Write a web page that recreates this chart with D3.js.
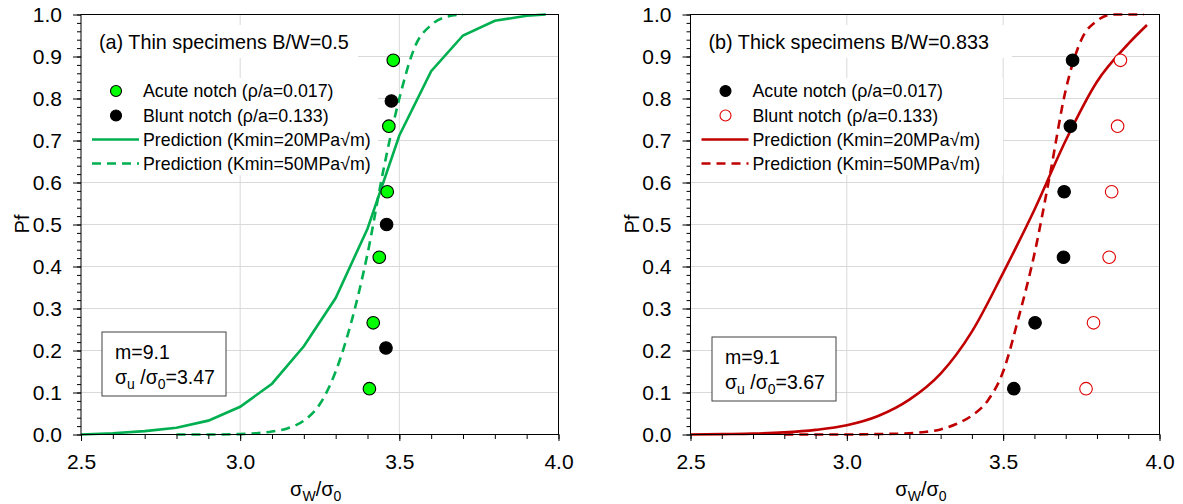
<!DOCTYPE html>
<html>
<head>
<meta charset="utf-8">
<script src="https://cdn.jsdelivr.net/npm/d3@7"></script>
<style>
  body { margin: 0; background: #fff; }
  text { font-family: "Liberation Sans", Arial, sans-serif; fill: #000; }
</style>
</head>
<body>
<svg id="chart" width="1183" height="504"></svg>
<script>
// Median ranks used for the failure probability of each specimen
const pfSix = [0.109, 0.266, 0.422, 0.578, 0.734, 0.891];
const pfThree = [0.206, 0.500, 0.794];

// (a) thin specimens
const thinAcuteX = [3.406, 3.418, 3.437, 3.462, 3.467, 3.481];
const thinBluntX = [3.458, 3.460, 3.475];
const thinK20X = [2.5, 2.6, 2.7, 2.8, 2.9, 3.0, 3.1, 3.2, 3.3, 3.4, 3.5, 3.6, 3.7, 3.8, 3.9, 3.96];
const thinK20Pf = [0, 0.003, 0.008, 0.016, 0.033, 0.066, 0.121, 0.21, 0.325, 0.49, 0.712, 0.865, 0.95, 0.985, 0.997, 1.0];
const thinK50X = [2.8, 2.9, 3.0, 3.05, 3.1, 3.15, 3.2, 3.25, 3.3, 3.35, 3.4, 3.45, 3.5, 3.55, 3.6, 3.65, 3.7];
const thinK50Pf = [0, 0, 0.001, 0.003, 0.007, 0.015, 0.033, 0.072, 0.15, 0.27, 0.43, 0.63, 0.80, 0.925, 0.975, 0.995, 1.0];

// (b) thick specimens
const thickAcuteX = [3.534, 3.602, 3.693, 3.695, 3.715, 3.722];
const thickBluntX = [3.765, 3.789, 3.839, 3.847, 3.866, 3.875];
const thickK20X = [2.5, 2.6, 2.7, 2.8, 2.9, 3.0, 3.1, 3.2, 3.3, 3.4, 3.5, 3.6, 3.7, 3.8, 3.9, 3.96];
const thickK20Pf = [0, 0.001, 0.002, 0.005, 0.011, 0.022, 0.044, 0.083, 0.145, 0.245, 0.385, 0.535, 0.70, 0.84, 0.93, 0.975];
const thickK50X = [2.8, 2.9, 3.0, 3.1, 3.2, 3.25, 3.3, 3.35, 3.4, 3.45, 3.5, 3.55, 3.6, 3.65, 3.7, 3.75, 3.8, 3.85, 3.9, 3.95];
const thickK50Pf = [0, 0, 0, 0.001, 0.003, 0.006, 0.012, 0.025, 0.045, 0.08, 0.15, 0.28, 0.43, 0.62, 0.82, 0.94, 0.985, 1.0, 1.0, 1.0];

// axis ticks
const xMajor = [2.5, 3.0, 3.5, 4.0];
const xMinor = d3.range(25, 41).map(d => d / 10);
const yMajor = d3.range(0, 11).map(d => d / 10);
const yMinor = d3.range(0, 51).map(d => d / 50);

const legendLabels = ["Acute notch (ρ/a=0.017)", "Blunt notch (ρ/a=0.133)",
                      "Prediction (Kmin=20MPa√m)", "Prediction (Kmin=50MPa√m)"];

const svg = d3.select("#chart");
const plotTop = 14.5, plotBottom = 434.5;

const panels = [
  {
    left: 81, right: 558.5, title: "(a) Thin specimens B/W=0.5",
    line: "#00b050", solidCurve: d3.curveLinear,
    k20: [thinK20X, thinK20Pf], k50: [thinK50X, thinK50Pf],
    acute: { x: thinAcuteX, pf: pfSix, fill: "#00ff00", stroke: "#000" },
    blunt: { x: thinBluntX, pf: pfThree, fill: "#000", stroke: "#000" },
    su: "3.47", box: [102, 332, 124, 64], titleBg: 358, legendBg: 378, pfX: 29
  },
  {
    left: 690.5, right: 1159.5, title: "(b) Thick specimens B/W=0.833",
    line: "#c00000", solidCurve: d3.curveMonotoneX,
    k20: [thickK20X, thickK20Pf], k50: [thickK50X, thickK50Pf],
    acute: { x: thickAcuteX, pf: pfSix, fill: "#000", stroke: "#000" },
    blunt: { x: thickBluntX, pf: pfSix, fill: "#fff", stroke: "#e00000" },
    su: "3.67", box: [712, 337, 124, 64], titleBg: 1012, legendBg: 1003, pfX: 638.5
  }
];

panels.forEach(drawPanel);

function drawPanel(p) {
  const x = d3.scaleLinear().domain([2.5, 4.0]).range([p.left, p.right]);
  const y = d3.scaleLinear().domain([0, 1]).range([plotBottom, plotTop]);
  const g = svg.append("g");

  // grid
  g.selectAll(".vgrid").data(xMajor.slice(1, -1)).enter().append("line")
    .attr("x1", d => x(d)).attr("x2", d => x(d)).attr("y1", plotTop).attr("y2", plotBottom)
    .attr("stroke", "#d9d9d9").attr("stroke-width", 1);
  g.selectAll(".hgrid").data(yMajor.slice(1, -1)).enter().append("line")
    .attr("x1", p.left).attr("x2", p.right).attr("y1", d => y(d)).attr("y2", d => y(d))
    .attr("stroke", "#d9d9d9").attr("stroke-width", 1);

  // white areas behind the title and legend (they hide the grid)
  g.append("rect").attr("x", p.left + 1).attr("y", 25)
    .attr("width", p.titleBg - p.left - 1).attr("height", 33).attr("fill", "#fff");
  g.append("rect").attr("x", p.left + 1).attr("y", 78)
    .attr("width", p.legendBg - p.left - 1).attr("height", 97).attr("fill", "#fff");

  // prediction curves
  const solid = d3.line().x(d => x(d[0])).y(d => y(d[1])).curve(p.solidCurve);
  const dashed = d3.line().x(d => x(d[0])).y(d => y(d[1])).curve(d3.curveMonotoneX);
  g.append("path").datum(d3.zip(p.k50[0], p.k50[1])).attr("d", dashed)
    .attr("fill", "none").attr("stroke", p.line).attr("stroke-width", 2.6)
    .attr("stroke-dasharray", "9,6");
  g.append("path").datum(d3.zip(p.k20[0], p.k20[1])).attr("d", solid)
    .attr("fill", "none").attr("stroke", p.line).attr("stroke-width", 2.6);

  // experimental points
  [p.blunt, p.acute].forEach(s => {
    g.selectAll(null).data(d3.zip(s.x, s.pf)).enter().append("circle")
      .attr("cx", d => x(d[0])).attr("cy", d => y(d[1])).attr("r", 6.3)
      .attr("fill", s.fill).attr("stroke", s.stroke).attr("stroke-width", 1.1);
  });

  // axes
  const yAxis = g.append("g").attr("transform", `translate(${p.left},0)`)
    .call(d3.axisLeft(y).tickValues(yMajor).tickSize(8).tickPadding(11).tickFormat(d3.format(".1f")));
  g.append("g").attr("transform", `translate(${p.left},0)`)
    .call(d3.axisLeft(y).tickValues(yMinor).tickSize(4).tickFormat(""));
  const xAxis = g.append("g").attr("transform", `translate(0,${plotBottom})`)
    .call(d3.axisBottom(x).tickValues(xMajor).tickSize(6.5).tickPadding(13).tickFormat(d3.format(".1f")));
  g.append("g").attr("transform", `translate(0,${plotBottom})`)
    .call(d3.axisBottom(x).tickValues(xMinor).tickSize(4.5).tickFormat(""));
  g.selectAll(".domain").remove();
  g.selectAll(".tick line").attr("stroke", "#000");
  [yAxis, xAxis].forEach(a => a.selectAll("text")
    .style("font-size", "21px").style("font-family", "'Liberation Sans', Arial, sans-serif"));

  // frame
  g.append("rect").attr("x", p.left).attr("y", plotTop)
    .attr("width", p.right - p.left).attr("height", plotBottom - plotTop)
    .attr("fill", "none").attr("stroke", "#000").attr("stroke-width", 1);

  // title
  g.append("text").attr("x", p.left + 18).attr("y", 49)
    .style("font-size", "19.8px").text(p.title);

  // legend
  const lx = p.left + 35, rows = [91, 115.5, 139.5, 163.5];
  [p.acute, p.blunt].forEach((s, i) => {
    g.append("circle").attr("cx", lx).attr("cy", rows[i]).attr("r", 5.5)
      .attr("fill", s.fill).attr("stroke", s.stroke).attr("stroke-width", 1.1);
  });
  [false, true].forEach((dash, i) => {
    g.append("line").attr("x1", p.left + 11).attr("x2", p.left + 58)
      .attr("y1", rows[i + 2]).attr("y2", rows[i + 2])
      .attr("stroke", p.line).attr("stroke-width", 2.6)
      .attr("stroke-dasharray", dash ? "9,6" : null);
  });
  legendLabels.forEach((t, i) => {
    g.append("text").attr("x", p.left + 62).attr("y", rows[i] + 6.3)
      .style("font-size", "17.8px").text(t);
  });

  // parameter box
  const [bx, by, bw, bh] = p.box;
  g.append("rect").attr("x", bx).attr("y", by).attr("width", bw).attr("height", bh)
    .attr("fill", "#fff").attr("stroke", "#404040").attr("stroke-width", 1);
  g.append("text").attr("x", bx + 13).attr("y", by + 27)
    .style("font-size", "19.5px").text("m=9.1");
  const st = g.append("text").attr("x", bx + 13).attr("y", by + 52).style("font-size", "19.5px");
  st.append("tspan").text("σ");
  st.append("tspan").attr("dy", 5).style("font-size", "14px").text("u");
  st.append("tspan").attr("dy", -5).text(" /σ");
  st.append("tspan").attr("dy", 5).style("font-size", "14px").text("0");
  st.append("tspan").attr("dy", -5).text("=" + p.su);

  // axis titles
  g.append("text").attr("transform", `translate(${p.pfX},224) rotate(-90)`)
    .attr("text-anchor", "middle").style("font-size", "20px").text("Pf");
  const xt = g.append("text").attr("x", (p.left + p.right) / 2 - 4).attr("y", 496)
    .attr("text-anchor", "middle").style("font-size", "20px");
  xt.append("tspan").text("σ");
  xt.append("tspan").attr("dy", 5).style("font-size", "14px").text("W");
  xt.append("tspan").attr("dy", -5).text("/σ");
  xt.append("tspan").attr("dy", 5).style("font-size", "14px").text("0");
}
</script>
</body>
</html>
